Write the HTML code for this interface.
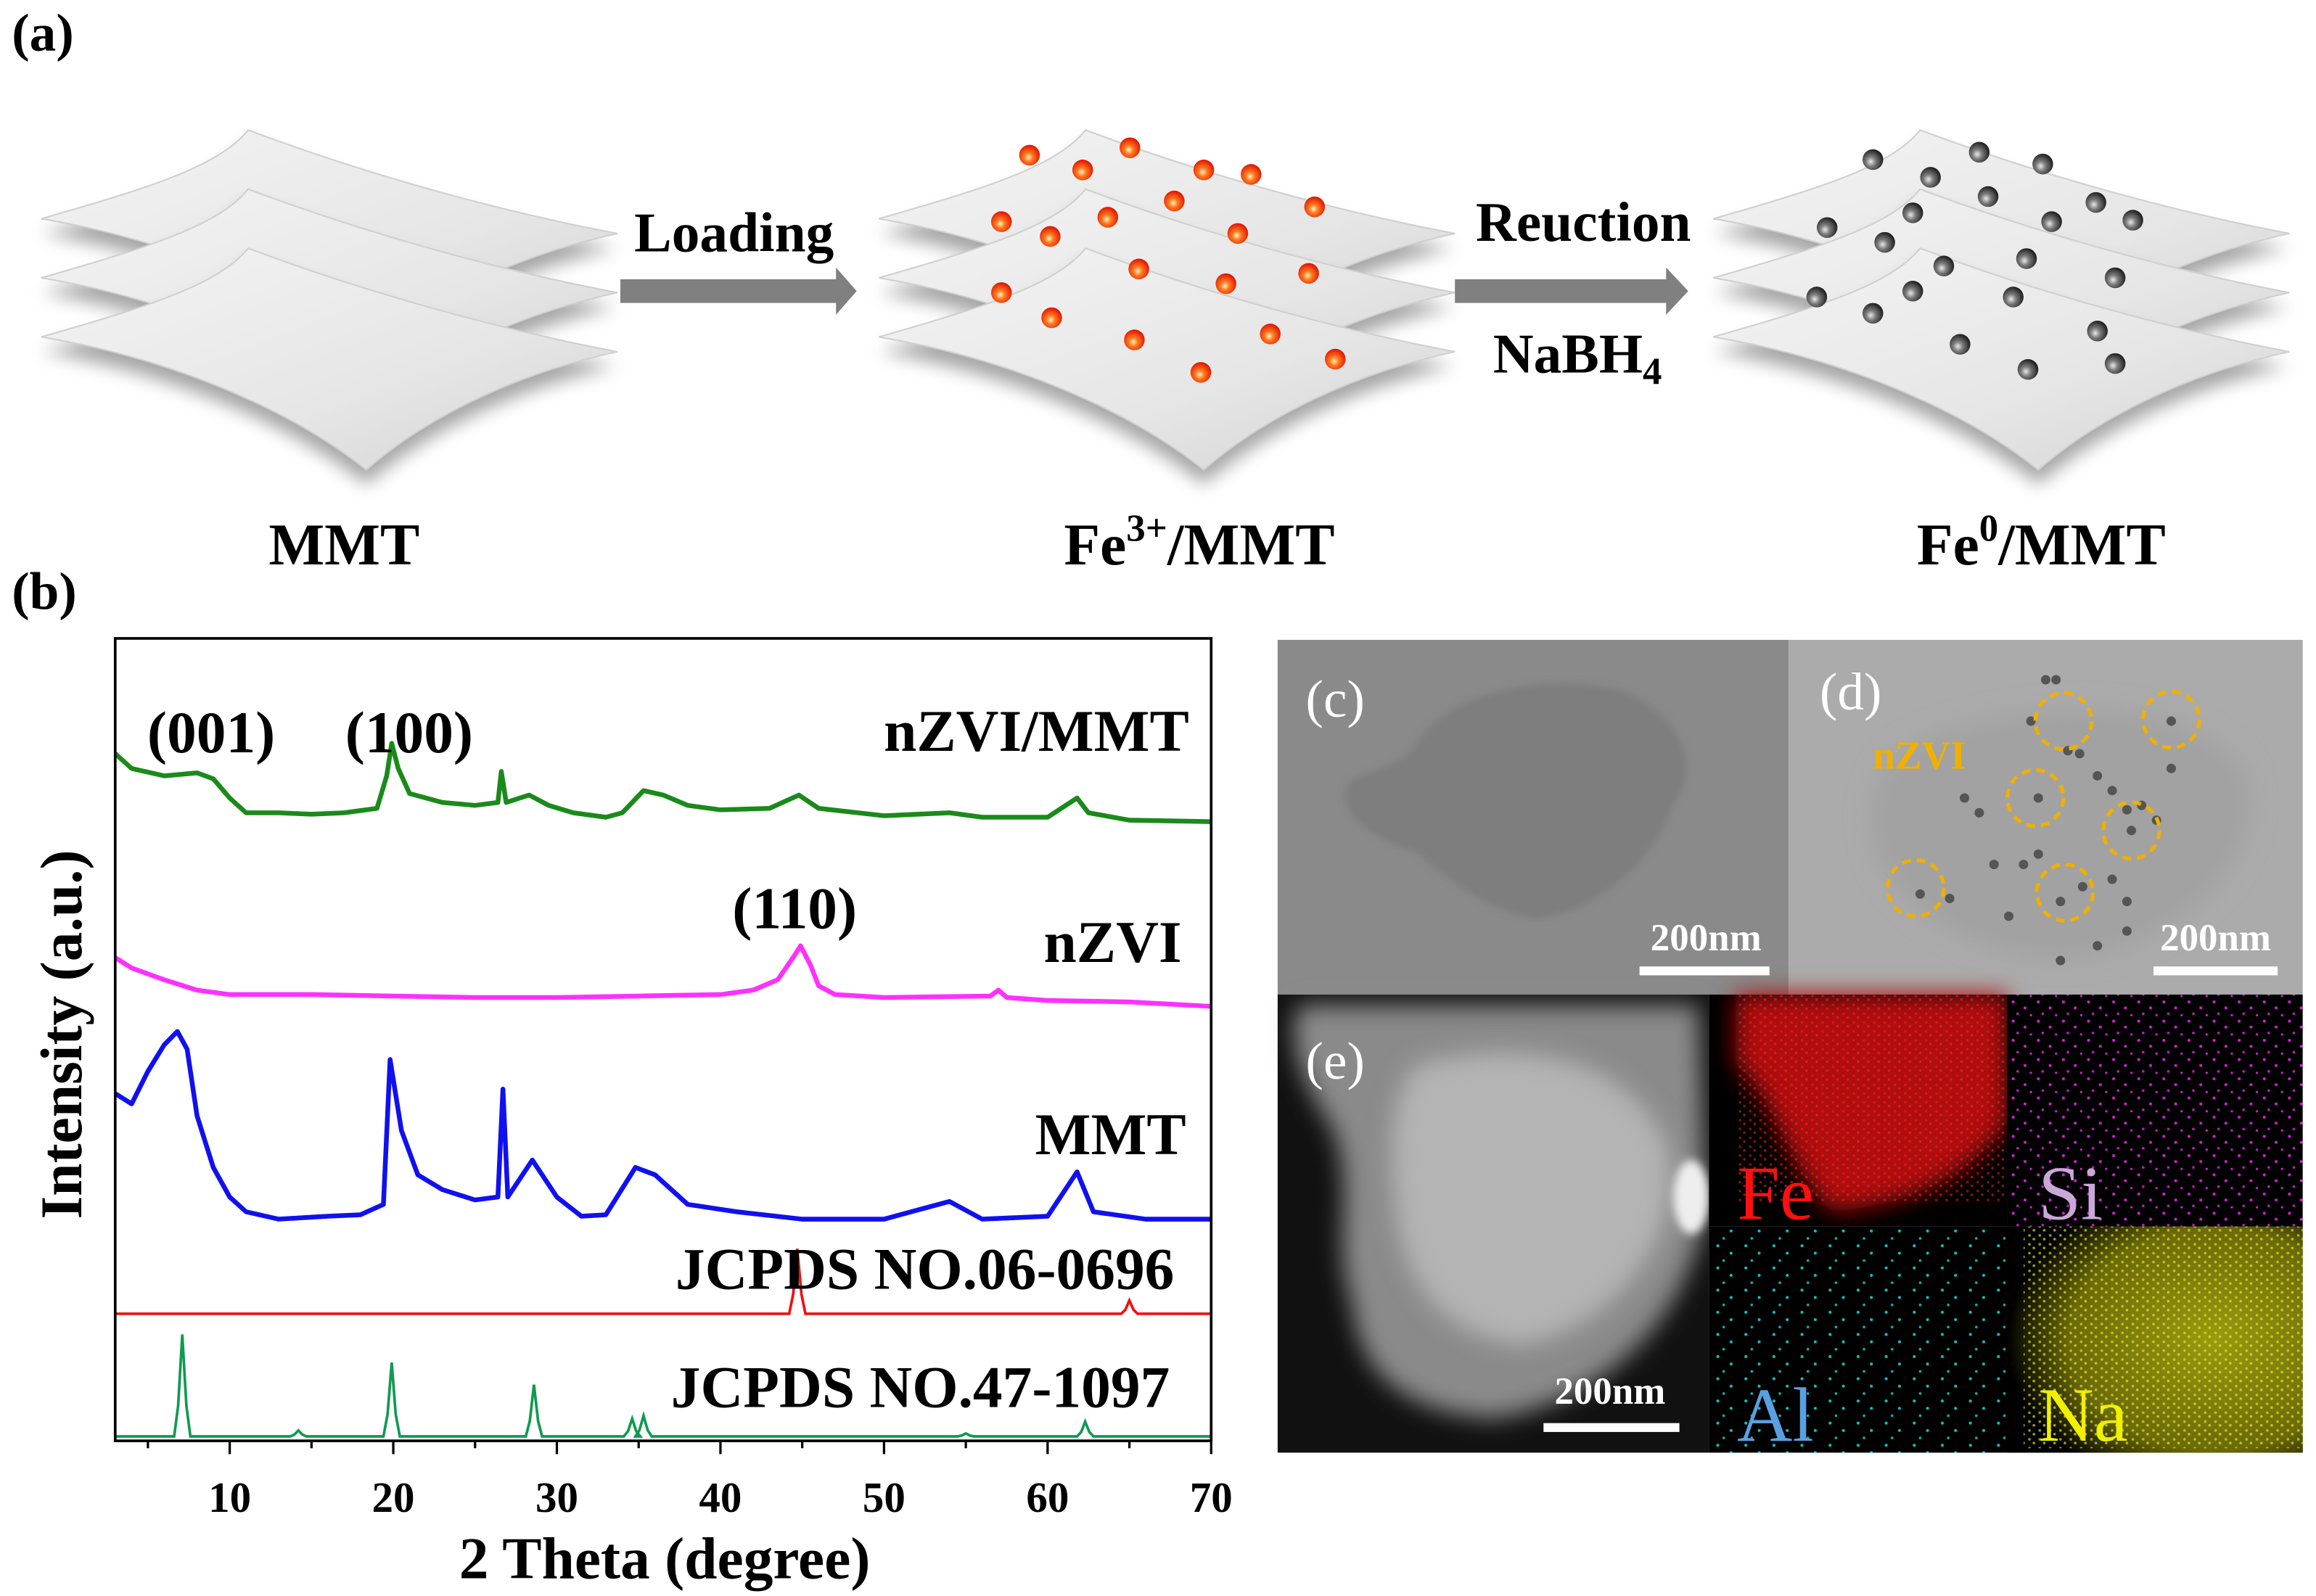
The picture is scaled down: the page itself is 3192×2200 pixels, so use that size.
<!DOCTYPE html>
<html><head><meta charset="utf-8">
<style>
html,body{margin:0;padding:0;background:#fff;}
svg{display:block;}
text{font-family:"Liberation Serif",serif;font-weight:bold;}
</style></head>
<body>
<svg id="fig" width="3192" height="2200" viewBox="0 0 1568 1080" preserveAspectRatio="none" xmlns="http://www.w3.org/2000/svg">
<defs>
  <linearGradient id="sheetG" x1="0" y1="0" x2="1" y2="1">
    <stop offset="0" stop-color="#f4f4f4"/><stop offset="0.6" stop-color="#e6e6e6"/><stop offset="1" stop-color="#d2d2d2"/>
  </linearGradient>
  <filter id="shadow" x="-20%" y="-20%" width="140%" height="160%"><feGaussianBlur stdDeviation="6"/></filter>
  <filter id="blur8" x="-30%" y="-30%" width="160%" height="160%"><feGaussianBlur stdDeviation="8"/></filter>
  <filter id="blur3" x="-30%" y="-30%" width="160%" height="160%"><feGaussianBlur stdDeviation="3"/></filter>
  <radialGradient id="redBall" cx="0.45" cy="0.6" r="0.6">
    <stop offset="0" stop-color="#fff3c0"/><stop offset="0.35" stop-color="#ff7a20"/><stop offset="1" stop-color="#e01000"/>
  </radialGradient>
  <radialGradient id="grayBall" cx="0.4" cy="0.6" r="0.6">
    <stop offset="0" stop-color="#e8e8e8"/><stop offset="0.4" stop-color="#7a7a7a"/><stop offset="1" stop-color="#202020"/>
  </radialGradient>
  <radialGradient id="feGlow" cx="0.6" cy="0.3" r="0.7">
    <stop offset="0" stop-color="#d01010"/><stop offset="0.55" stop-color="#a00808"/><stop offset="0.85" stop-color="#300000"/><stop offset="1" stop-color="#000"/>
  </radialGradient>
  <radialGradient id="naGlow" cx="0.7" cy="0.5" r="0.7">
    <stop offset="0" stop-color="#9a9a10"/><stop offset="0.7" stop-color="#6a6a08"/><stop offset="1" stop-color="#000"/>
  </radialGradient>
  <pattern id="siDots" width="17" height="13" patternUnits="userSpaceOnUse">
    <rect width="17" height="13" fill="#000"/>
    <circle cx="3" cy="2" r="1" fill="#d020d0"/><circle cx="11" cy="6" r="1" fill="#d020d0"/><circle cx="6" cy="10" r="0.9" fill="#c018c0"/><circle cx="15" cy="11" r="0.8" fill="#d020d0"/>
  </pattern>
  <pattern id="alDots" width="19" height="15" patternUnits="userSpaceOnUse">
    <rect width="19" height="15" fill="#000"/>
    <circle cx="4" cy="3" r="1" fill="#10c0c0"/><circle cx="13" cy="8" r="1" fill="#10c0c0"/><circle cx="8" cy="13" r="0.9" fill="#10b0b0"/>
  </pattern>
  <pattern id="feDots" width="7" height="6" patternUnits="userSpaceOnUse">
    <circle cx="2" cy="2" r="0.9" fill="#ff2020"/><circle cx="5" cy="4.5" r="0.9" fill="#ff3030"/>
  </pattern>
  <pattern id="naDots" width="7" height="6" patternUnits="userSpaceOnUse">
    <circle cx="2" cy="2" r="0.9" fill="#e8e820"/><circle cx="5" cy="4.5" r="0.9" fill="#f0f030"/>
  </pattern>
  <g id="sheet">
    <path d="M10,60 C80,40 130,25 150,0 C230,30 320,55 400,70 C330,85 270,115 230,150 C180,110 100,75 10,60 Z" fill="#000" opacity="0.35" filter="url(#shadow)" transform="translate(0,10)"/>
    <path d="M10,60 C80,40 130,25 150,0 C230,30 320,55 400,70 C330,85 270,115 230,150 C180,110 100,75 10,60 Z" fill="url(#sheetG)" stroke="#cfcfcf" stroke-width="1"/>
  </g>
</defs>

<!-- Panel (a) -->
<text x="8" y="34" font-size="36">(a)</text>
<g>
  <use href="#sheet" transform="translate(18,88)"/>
  <use href="#sheet" transform="translate(18,128)"/>
  <use href="#sheet" transform="translate(18,168)"/>
</g>
<g>
  <use href="#sheet" transform="translate(585,88)"/>
  <use href="#sheet" transform="translate(585,128)"/>
  <use href="#sheet" transform="translate(585,168)"/>
</g>
<g>
  <use href="#sheet" transform="translate(1150,88)"/>
  <use href="#sheet" transform="translate(1150,128)"/>
  <use href="#sheet" transform="translate(1150,168)"/>
</g>
<g id="redParticles"></g>
<g id="grayParticles"></g>

<g>
  <rect x="420" y="189" width="148" height="16" fill="#808080"/>
  <polygon points="566,181 580,197 566,213" fill="#808080"/>
</g>
<text x="497" y="170" font-size="38" text-anchor="middle">Loading</text>
<g>
  <rect x="985" y="189" width="145" height="16" fill="#808080"/>
  <polygon points="1128,181 1143,197 1128,213" fill="#808080"/>
</g>
<text x="1072" y="163" font-size="38" text-anchor="middle">Reuction</text>
<text x="1068" y="252" font-size="38" text-anchor="middle">NaBH<tspan font-size="26" dy="8">4</tspan></text>

<text x="233" y="382" font-size="40" text-anchor="middle">MMT</text>
<text x="812" y="382" font-size="40" text-anchor="middle">Fe<tspan font-size="26" dy="-16">3+</tspan><tspan dy="16">/MMT</tspan></text>
<text x="1382" y="382" font-size="40" text-anchor="middle">Fe<tspan font-size="26" dy="-16">0</tspan><tspan dy="16">/MMT</tspan></text>

<!-- Panel (b) -->
<text x="8" y="412" font-size="36">(b)</text>
<g id="chart"></g>

<!-- Panel (c) -->
<g>
  <rect x="865" y="433" width="346" height="240" fill="#8a8a8a"/>
  <path d="M960,505 C980,470 1050,455 1100,470 C1140,490 1150,520 1130,545 C1120,580 1080,615 1040,620 C1010,615 990,600 960,575 C925,565 905,545 915,530 C935,520 950,520 960,505 Z" fill="#7e7e7e" stroke="#666" stroke-width="1" filter="url(#blur3)"/>
  <text x="884" y="485" font-size="36" fill="#fff" style="font-weight:normal">(c)</text>
  <text x="1155" y="643" font-size="26" fill="#fff" text-anchor="middle">200nm</text>
  <rect x="1110" y="654" width="88" height="6" fill="#fff"/>
</g>
<!-- Panel (d) -->
<g>
  <rect x="1211" y="433" width="348" height="240" fill="#ababab"/>
  <path d="M1300,500 C1380,470 1480,470 1520,520 C1540,580 1480,640 1400,650 C1340,650 1290,620 1270,580 C1260,540 1270,515 1300,500 Z" fill="#a2a2a2" filter="url(#blur8)"/>
  <g id="dDots" fill="#555"></g>
  <g fill="none" stroke="#f0b000" stroke-width="2.5" stroke-dasharray="6,4">
    <circle cx="1397" cy="488" r="19"/><circle cx="1470" cy="487" r="19"/><circle cx="1378" cy="540" r="19"/>
    <circle cx="1443" cy="562" r="19"/><circle cx="1297" cy="601" r="19"/><circle cx="1398" cy="604" r="19"/>
  </g>
  <text x="1268" y="520" font-size="27" fill="#f0b000">nZVI</text>
  <text x="1232" y="480" font-size="36" fill="#fff" style="font-weight:normal">(d)</text>
  <text x="1500" y="643" font-size="26" fill="#fff" text-anchor="middle">200nm</text>
  <rect x="1458" y="654" width="84" height="6" fill="#fff"/>
</g>
<!-- Panel (e) -->
<g>
  <rect x="865" y="673" width="292" height="310" fill="#111"/>
  <path d="M880,680 L1150,680 L1155,820 C1140,900 1080,950 1010,960 C950,955 920,930 915,880 C900,840 920,800 900,760 C880,730 870,700 880,680 Z" fill="#8a8a8a" filter="url(#blur8)"/>
  <path d="M960,720 C1040,700 1110,720 1130,780 C1140,840 1090,900 1030,910 C980,905 950,870 945,820 C940,780 940,740 960,720 Z" fill="#b4b4b4" filter="url(#blur8)"/>
  <ellipse cx="1145" cy="810" rx="12" ry="25" fill="#eee" filter="url(#blur3)"/>
  <text x="884" y="730" font-size="36" fill="#fff" style="font-weight:normal">(e)</text>
  <text x="1090" y="950" font-size="26" fill="#fff" text-anchor="middle">200nm</text>
  <rect x="1045" y="963" width="92" height="6" fill="#fff"/>
</g>
<g>
  <rect x="1157" y="673" width="202" height="157" fill="#000"/>
  <path d="M1175,673 L1359,673 L1359,760 C1330,800 1290,815 1240,820 C1210,790 1200,740 1175,720 Z" fill="#b00a0a" filter="url(#blur8)"/>
  <rect x="1175" y="673" width="184" height="140" fill="url(#feDots)" opacity="0.5"/>
  <text x="1176" y="825" font-size="52" fill="#ff1010" style="font-weight:normal">Fe</text>
</g>
<g>
  <rect x="1359" y="673" width="200" height="157" fill="url(#siDots)"/>
  <text x="1380" y="825" font-size="52" fill="#c8a8d8" style="font-weight:normal">Si</text>
</g>
<g>
  <rect x="1157" y="830" width="202" height="153" fill="url(#alDots)"/>
  <text x="1176" y="975" font-size="52" fill="#5aa0e0" style="font-weight:normal">Al</text>
</g>
<g>
  <rect x="1359" y="830" width="200" height="153" fill="#000"/>
  <rect x="1359" y="830" width="200" height="153" fill="url(#naGlow)"/>
  <rect x="1370" y="830" width="189" height="150" fill="url(#naDots)" opacity="0.65"/>
  <text x="1380" y="975" font-size="52" fill="#f0f000" style="font-weight:normal">Na</text>
</g>

<script>
// ---- XRD data (2θ in degrees, intensity in a.u.) ----
const xTicks = [10, 20, 30, 40, 50, 60, 70];
const nzviMmtX = [3,4,6,8,9,10,11,13,15,17,19,19.6,19.9,20.3,21,23,25,26.4,26.6,26.9,28.3,29.5,31,33,34,35.3,36.5,38,40,43,44.8,46,50,54,56,60,61.8,62.5,65,70];
const nzviMmtY = [465,455,450,452,448,435,425,425,424,425,428,450,472,455,438,432,430,432,453,432,437,430,425,422,425,440,437,430,427,428,437,428,423,425,422,422,435,425,420,419];
const nzviX = [3,4,6,8,10,15,20,25,30,35,40,42,43.5,44.5,44.9,45.5,46,47,50,56.5,57,57.5,60,65,70];
const nzviY = [327,320,312,305,302,302,301,300,300,301,302,305,312,328,335,322,308,302,300,301,305,300,298,297,294];
const mmtX = [3,4,5,6,6.8,7.4,8,9,10,11,13,16,18,19.4,19.8,20.5,21.5,23,25,26.4,26.7,27,28.5,30,31.5,33,34.8,36,38,41,45,50,54,56,60,61.8,62.8,66,70];
const mmtY = [235,228,250,268,277,265,220,185,165,155,150,152,153,160,258,210,180,170,163,165,238,165,190,165,152,153,185,180,160,155,150,150,162,150,152,182,155,150,150];
const ref0696Pos = [44.7, 65.0];
const ref0696Height = [44, 9];
const ref0696Base = 86;
const ref1097Pos = [7.1, 14.2, 19.9, 28.6, 34.6, 35.3, 55.0, 62.3];
const ref1097Height = [69, 4, 50, 35, 12, 14, 2, 10];
const ref1097Base = 3;

const NS = "http://www.w3.org/2000/svg";
const PL = 78, PR = 820, PT = 432, PB = 975;
const X0 = 3, X1 = 70;
function xs(d){ return PL + (d - X0) / (X1 - X0) * (PR - PL); }
function ys(v){ return PB - v; }

const chart = document.getElementById('chart');
function mk(tag, attrs, parent){
  const e = document.createElementNS(NS, tag);
  for (const k in attrs) e.setAttribute(k, attrs[k]);
  (parent || chart).appendChild(e);
  return e;
}
function linePath(X, Y){
  return X.map((d,i)=> (i?'L':'M') + xs(d).toFixed(1) + ',' + ys(Y[i]).toFixed(1)).join(' ');
}
function stickPath(pos, h, base){
  const w = 0.25;
  let d = 'M' + xs(X0) + ',' + ys(base);
  pos.forEach((p,i)=>{
    d += ' L' + xs(p - w*2).toFixed(1) + ',' + ys(base)
       + ' L' + xs(p - w).toFixed(1) + ',' + ys(base + h[i]*0.3).toFixed(1)
       + ' L' + xs(p).toFixed(1) + ',' + ys(base + h[i]).toFixed(1)
       + ' L' + xs(p + w).toFixed(1) + ',' + ys(base + h[i]*0.3).toFixed(1)
       + ' L' + xs(p + w*2).toFixed(1) + ',' + ys(base);
  });
  d += ' L' + xs(X1) + ',' + ys(base);
  return d;
}

const s1 = mk('path', {d: linePath(nzviMmtX, nzviMmtY), fill:'none', stroke:'#1a8a1a', 'stroke-width':3.2, 'stroke-linejoin':'round'});


const s2 = mk('path', {d: linePath(nzviX, nzviY), fill:'none', stroke:'#ff30ff', 'stroke-width':3.2, 'stroke-linejoin':'round'});


const s3 = mk('path', {d: linePath(mmtX, mmtY), fill:'none', stroke:'#1010f0', 'stroke-width':3.2, 'stroke-linejoin':'round'});


const s4 = mk('path', {d: stickPath(ref0696Pos, ref0696Height, ref0696Base), fill:'none', stroke:'#f01010', 'stroke-width':1.8});


const s5 = mk('path', {d: stickPath(ref1097Pos, ref1097Height, ref1097Base), fill:'none', stroke:'#109a50', 'stroke-width':1.8});



const frame = mk('rect', {x:PL, y:PT, width:PR-PL, height:PB-PT, fill:'none', stroke:'#000', 'stroke-width':1.8});



for (let t = 5; t <= 70; t += 5){
  const major = (t % 10 === 0);
  const tk = mk('line', {x1:xs(t), x2:xs(t), y1:PB, y2:PB + (major?9:5), stroke:'#000', 'stroke-width':1.6});
  
  
}
xTicks.forEach(t=>{
  const lb = mk('text', {x:xs(t), y:1023, 'font-size':29, 'text-anchor':'middle'});
  lb.textContent = t;
  
  
});
const xt = mk('text', {x:450, y:1068, 'font-size':40, 'text-anchor':'middle'});
xt.textContent = '2 Theta (degree)';


const yt = mk('text', {x:0, y:0, 'font-size':40, 'text-anchor':'middle', transform:'translate(55,700) rotate(-90)'});
yt.textContent = 'Intensity (a.u.)';



const labels = [
  ['(001)', 143, 509, 'middle', 'peak-label-001'],
  ['(100)', 277, 509, 'middle', 'peak-label-100'],
  ['(110)', 538, 628, 'middle', 'peak-label-110'],
  ['nZVI/MMT', 805, 508, 'end', 'label-nzvi-mmt'],
  ['nZVI', 800, 651, 'end', 'label-nzvi'],
  ['MMT', 803, 781, 'end', 'label-mmt'],
  ['JCPDS NO.06-0696', 795, 872, 'end', 'label-jcpds-06-0696'],
  ['JCPDS NO.47-1097', 792, 952, 'end', 'label-jcpds-47-1097']
];
labels.forEach(l=>{
  const t = mk('text', {x:l[1], y:l[2], 'font-size':40, 'text-anchor':l[3]});
  t.textContent = l[0];
  
  
});

const red = [[697,105],[733,115],[765,100],[815,115],[847,118],[795,136],[890,140],[678,150],[750,147],[711,160],[838,158],[771,182],[886,185],[830,192],[678,198],[712,215],[768,230],[860,226],[813,252],[904,243]];
const rg = document.getElementById('redParticles');
red.forEach(p=>{ mk('circle', {cx:p[0], cy:p[1], r:7, fill:'url(#redBall)'}, rg); });
const gray = [[1268,108],[1307,120],[1340,103],[1383,111],[1346,133],[1419,137],[1444,149],[1237,154],[1295,144],[1389,150],[1276,164],[1316,180],[1372,175],[1432,188],[1230,201],[1268,212],[1295,197],[1363,201],[1327,233],[1420,224],[1373,250],[1432,246]];
const gg = document.getElementById('grayParticles');
gray.forEach(p=>{ mk('circle', {cx:p[0], cy:p[1], r:7, fill:'url(#grayBall)'}, gg); });
const dd = [[1385,460],[1392,460],[1375,488],[1470,488],[1400,508],[1408,510],[1380,540],[1420,525],[1430,535],[1440,548],[1450,545],[1330,540],[1340,550],[1443,562],[1460,555],[1370,585],[1380,578],[1300,605],[1320,608],[1395,610],[1410,600],[1430,595],[1440,610],[1360,620],[1420,640],[1440,630],[1395,650],[1350,585],[1470,520]];
const dg = document.getElementById('dDots');
dd.forEach(p=>{ mk('circle', {cx:p[0], cy:p[1], r:3.2}, dg); });
</script>
</svg>
</body></html>
